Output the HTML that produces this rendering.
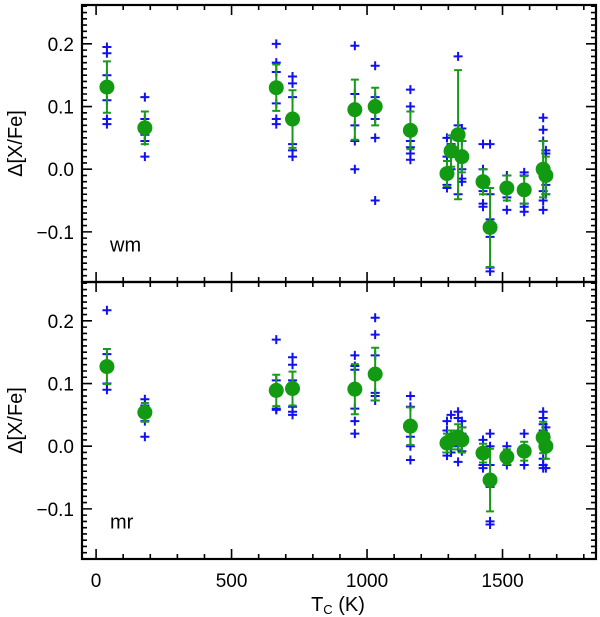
<!DOCTYPE html>
<html><head><meta charset="utf-8"><style>
body{margin:0;background:#fff;}
svg{display:block;font-family:"Liberation Sans",Helvetica,sans-serif;}
</style></head><body>
<svg id="chart" width="600" height="617" viewBox="0 0 600 617" xmlns="http://www.w3.org/2000/svg"></svg>
<script>
const elementTc = [40,180,665,725,955,1030,1160,1295,1310,1336,1350,1428,1454,1516,1580,1650,1660];
const wmMean = [0.131,0.066,0.130,0.080,0.095,0.100,0.062,-0.007,0.029,0.055,0.020,-0.020,-0.093,-0.030,-0.033,0.000,-0.010];
const wmErr  = [0.041,0.026,0.037,0.046,0.048,0.030,0.030,0.020,0.025,0.103,0.025,0.020,0.063,0.020,0.022,0.045,0.030];
const mrMean = [0.127,0.054,0.089,0.092,0.091,0.115,0.032,0.005,0.010,0.015,0.010,-0.011,-0.054,-0.017,-0.008,0.014,0.000];
const mrErr  = [0.028,0.015,0.025,0.027,0.040,0.042,0.030,0.015,0.015,0.020,0.020,0.015,0.050,0.012,0.015,0.025,0.020];
const wmStars = [
 [0.195,0.185,0.15,0.11,0.08,0.072],[0.115,0.08,0.055,0.045,0.02],[0.2,0.17,0.155,0.105,0.08,0.072],
 [0.148,0.137,0.115,0.04,0.03,0.02],[0.197,0.12,0.07,0.045,0.0],[0.165,0.115,0.08,0.05,-0.05],
 [0.127,0.1,0.045,0.035,0.025,0.015],[0.05,0.02,-0.015,-0.025,-0.03],[0.04,0.03,0.0],
 [0.18,0.07,0.06,-0.04],[0.065,0.045,0.0,-0.015,-0.02],[0.04,0.0,-0.035,-0.055,-0.06],
 [0.04,-0.04,-0.08,-0.108,-0.157,-0.163],[-0.01,-0.045,-0.065],[-0.005,-0.01,-0.055,-0.06,-0.068],
 [0.082,0.063,0.045,0.0,-0.035,-0.05,-0.065],[0.03,0.025,-0.025,-0.04]];
const mrStars = [
 [0.217,0.147,0.1,0.09],[0.075,0.065,0.04,0.015],[0.17,0.105,0.06,0.058],
 [0.142,0.13,0.105,0.063,0.055,0.05],[0.145,0.128,0.122,0.06,0.04,0.02],[0.205,0.178,0.145,0.12,0.085,0.08,0.073],
 [0.08,0.063,0.025,0.015,0.0,-0.022],[0.04,0.025,-0.01,-0.015],[0.05,0.0,-0.01],
 [0.055,0.045,0.0,-0.025],[0.04,0.03,0.02,-0.008],[0.01,-0.005,-0.03,-0.035],
 [0.02,0.0,-0.03,-0.065,-0.12,-0.125],[0.0,-0.03],[0.02,-0.03],
 [0.055,0.045,0.035,0.025,-0.02,-0.03,-0.035],[0.03,0.0,-0.035]];
const xTickLabels = [0,500,1000,1500];
const yTickLabels = [0.2,0.1,0.0,-0.1];
const panelLabels = ['wm','mr'];

const NS='http://www.w3.org/2000/svg';
const svg=document.getElementById('chart');
const L=82,R=596,X0=-52,X1=1845;
const panels=[{top:5,bot:282},{top:282,bot:559}];
const Y0=-0.18,Y1=0.262;
function sx(t){return L+(t-X0)/(X1-X0)*(R-L);}
function mk(tag,attrs,parent){const e=document.createElementNS(NS,tag);for(const k in attrs)e.setAttribute(k,attrs[k]);(parent||svg).appendChild(e);return e;}
function fmt(v){return v<0?'\u2212'+Math.abs(v).toFixed(1):v.toFixed(1);}

panels.forEach((p,pi)=>{
  const sy=v=>p.bot-(v-Y0)/(Y1-Y0)*(p.bot-p.top);
  const g=mk('g',{});
  
  
  const means=pi===0?wmMean:mrMean, errs=pi===0?wmErr:mrErr, stars=pi===0?wmStars:mrStars;
  elementTc.forEach((t,i)=>{
    stars[i].forEach(v=>{
      const x=sx(t),y=sy(v);
      const c=mk('path',{d:`M${x-4.5},${y}H${x+4.5}M${x},${y-4.5}V${y+4.5}`,stroke:'#1010f0','stroke-width':2,fill:'none'},g);
      
      
    });
  });
  elementTc.forEach((t,i)=>{
    const x=sx(t),yh=sy(means[i]+errs[i]),yl=sy(means[i]-errs[i]);
    const e=mk('path',{d:`M${x},${yh}V${yl}M${x-4},${yh}H${x+4}M${x-4},${yl}H${x+4}`,stroke:'#1a9a1a','stroke-width':2,fill:'none'},g);
    
    
  });
  elementTc.forEach((t,i)=>{
    const c=mk('circle',{cx:sx(t),cy:sy(means[i]),r:7.5,fill:'#139a13'},g);
    
    
  });
  const fr=mk('rect',{x:L,y:p.top,width:R-L,height:p.bot-p.top,fill:'none',stroke:'#000','stroke-width':2.2});
  
  
  let d='';
  for(let t=0;t<=1800;t+=100){const x=sx(t),len=t%500===0?10:5;d+=`M${x},${p.bot}v${-len}M${x},${p.top}v${len}`;}
  for(let k=-18;k<=26;k++){const v=k/100,y=sy(v),len=k%10===0?10:5;d+=`M${L},${y}h${len}M${R},${y}h${-len}`;}
  const tk=mk('path',{d:d,stroke:'#000','stroke-width':1.6,fill:'none'});
  
  
  yTickLabels.forEach(v=>{
    const tx=mk('text',{x:L-8,y:sy(v)+7,'text-anchor':'end','font-size':19});
    tx.textContent=fmt(v);
    
    
  });
  const yt=mk('text',{x:0,y:0,'text-anchor':'middle','font-size':20,transform:`translate(22,${(p.top+p.bot)/2}) rotate(-90)`});
  yt.textContent='\u0394[X/Fe]';
  
  
  const pl=mk('text',{x:110,y:sy(-0.12)+7,'font-size':20});
  pl.textContent=panelLabels[pi];
  
  
});
xTickLabels.forEach(t=>{
  const tx=mk('text',{x:sx(t),y:587,'text-anchor':'middle','font-size':19});
  tx.textContent=t;
  
  
});
const xt=mk('text',{x:338,y:611,'text-anchor':'middle','font-size':20});
xt.innerHTML='T<tspan font-size="13" dy="3">C</tspan><tspan dy="-3"> (K)</tspan>';


</script>
</body></html>
